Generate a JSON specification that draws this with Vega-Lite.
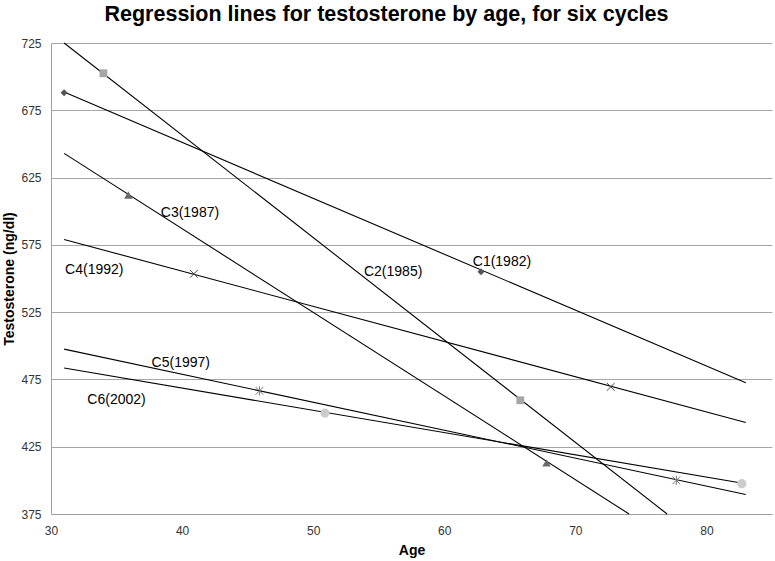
{
  "$schema": "https://vega.github.io/schema/vega-lite/v6.json",
  "width": 721,
  "height": 471,
  "autosize": {"type": "none"},
  "padding": {"left": 51, "top": 43, "right": 3, "bottom": 47},
  "background": "white",
  "title": {
    "text": "Regression lines for testosterone by age, for six cycles",
    "font": "Liberation Sans",
    "fontSize": 21.5,
    "fontWeight": "bold",
    "color": "#000000",
    "anchor": "middle",
    "dx": -25,
    "offset": 12
  },
  "config": {
    "view": {"stroke": null},
    "font": "Liberation Sans"
  },
  "datasets": {
    "lines": [
      {"cycle": "C1", "age": 31, "t": 688.5}, {"cycle": "C1", "age": 83, "t": 472.5},
      {"cycle": "C2", "age": 31, "t": 725}, {"cycle": "C2", "age": 77, "t": 375},
      {"cycle": "C3", "age": 31, "t": 643}, {"cycle": "C3", "age": 74.1, "t": 375},
      {"cycle": "C4", "age": 31, "t": 579}, {"cycle": "C4", "age": 83, "t": 443},
      {"cycle": "C5", "age": 31, "t": 497.5}, {"cycle": "C5", "age": 83, "t": 389.5},
      {"cycle": "C6", "age": 31, "t": 483.5}, {"cycle": "C6", "age": 83, "t": 397.5}
    ],
    "filledMarks": [
      {"cycle": "C1", "age": 31, "t": 688}, {"cycle": "C1", "age": 62.8, "t": 555},
      {"cycle": "C2", "age": 34, "t": 702.5}, {"cycle": "C2", "age": 65.8, "t": 459.5},
      {"cycle": "C3", "age": 35.9, "t": 612}, {"cycle": "C3", "age": 67.8, "t": 413},
      {"cycle": "C6", "age": 50.9, "t": 450}, {"cycle": "C6", "age": 82.7, "t": 397.5}
    ],
    "strokeMarks": [
      {"cycle": "C4", "age": 40.9, "t": 553.5}, {"cycle": "C4", "age": 72.7, "t": 469.5},
      {"cycle": "C5", "age": 45.9, "t": 466.5}, {"cycle": "C5", "age": 77.7, "t": 400}
    ],
    "labels": [
      {"label": "C1(1982)", "age": 64.4, "t": 562},
      {"label": "C2(1985)", "age": 56.1, "t": 555},
      {"label": "C3(1987)", "age": 40.6, "t": 599},
      {"label": "C4(1992)", "age": 33.3, "t": 556},
      {"label": "C5(1997)", "age": 39.9, "t": 487},
      {"label": "C6(2002)", "age": 35, "t": 460}
    ]
  },
  "layer": [
    {
      "data": {"name": "lines"},
      "mark": {"type": "line", "color": "#000000", "strokeWidth": 1.1},
      "encoding": {
        "x": {
          "field": "age", "type": "quantitative",
          "scale": {"domain": [30, 85], "nice": false, "zero": false},
          "axis": {
            "title": "Age", "values": [30, 40, 50, 60, 70, 80],
            "grid": false, "ticks": false, "domainColor": "#a0a0a0", "labelFlush": false,
            "labelFont": "Liberation Sans", "labelFontSize": 12, "labelColor": "#333333",
            "labelPadding": 11, "titleFont": "Liberation Sans", "titleFontSize": 14,
            "titleFontWeight": "bold", "titleColor": "#000000", "titlePadding": 7
          }
        },
        "y": {
          "field": "t", "type": "quantitative",
          "scale": {"domain": [375, 725], "nice": false, "zero": false},
          "axis": {
            "title": "Testosterone (ng/dl)", "values": [375, 425, 475, 525, 575, 625, 675, 725],
            "grid": true, "gridColor": "#a6a6a6", "gridWidth": 1, "ticks": false, "labelFlush": false,
            "domainColor": "#a0a0a0", "labelFont": "Liberation Sans", "labelFontSize": 12,
            "labelColor": "#333333", "labelPadding": 10, "titleFont": "Liberation Sans",
            "titleFontSize": 14, "titleFontWeight": "bold", "titleColor": "#000000",
            "titlePadding": 4
          }
        },
        "detail": {"field": "cycle"}
      }
    },
    {
      "data": {"name": "filledMarks"},
      "mark": {"type": "point", "filled": true, "opacity": 1},
      "encoding": {
        "x": {"field": "age", "type": "quantitative"},
        "y": {"field": "t", "type": "quantitative"},
        "shape": {
          "field": "cycle", "type": "nominal", "legend": null,
          "scale": {"domain": ["C1", "C2", "C3", "C6"], "range": ["diamond", "square", "triangle-up", "circle"]}
        },
        "color": {
          "field": "cycle", "type": "nominal", "legend": null,
          "scale": {"domain": ["C1", "C2", "C3", "C6"], "range": ["#555555", "#a6a6a6", "#6a6a6a", "#cccccc"]}
        },
        "size": {
          "field": "cycle", "type": "nominal", "legend": null,
          "scale": {"domain": ["C1", "C2", "C3", "C6"], "range": [50, 85, 75, 80]}
        }
      }
    },
    {
      "data": {"name": "strokeMarks"},
      "mark": {"type": "point", "filled": false, "opacity": 1, "strokeWidth": 1},
      "encoding": {
        "x": {"field": "age", "type": "quantitative"},
        "y": {"field": "t", "type": "quantitative"},
        "shape": {
          "field": "cycle", "type": "nominal", "legend": null,
          "scale": {"domain": ["C4", "C5"], "range": ["M-1,-1L1,1M-1,1L1,-1", "M-1,-1L1,1M-1,1L1,-1M0,-1.2L0,1.2"]}
        },
        "color": {
          "field": "cycle", "type": "nominal", "legend": null,
          "scale": {"domain": ["C4", "C5"], "range": ["#444444", "#777777"]}
        },
        "size": {"value": 60}
      }
    },
    {
      "data": {"name": "labels"},
      "mark": {"type": "text", "font": "Liberation Sans", "fontSize": 14, "color": "#000000", "align": "center", "baseline": "middle"},
      "encoding": {
        "x": {"field": "age", "type": "quantitative"},
        "y": {"field": "t", "type": "quantitative"},
        "text": {"field": "label"}
      }
    }
  ],
  "resolve": {"scale": {"shape": "independent", "color": "independent", "size": "independent"}}
}
